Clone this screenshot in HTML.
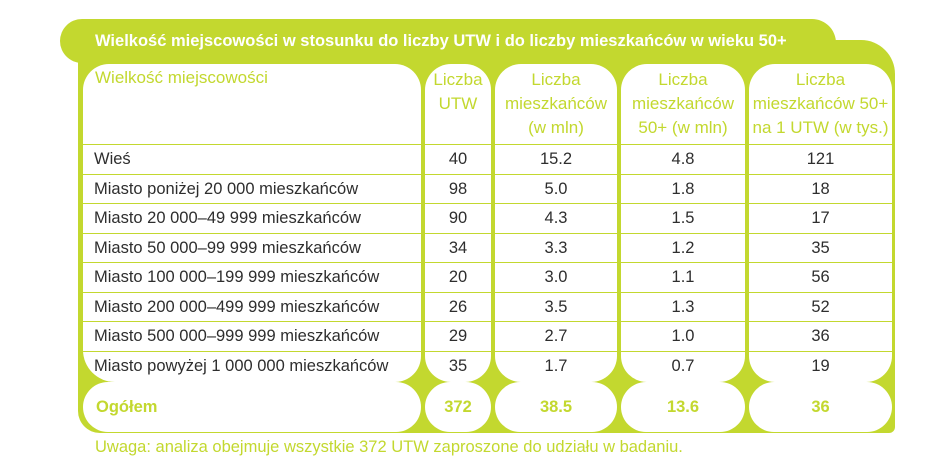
<!DOCTYPE html>
<html><head><meta charset="utf-8"><style>
body{margin:0;width:944px;height:468px;background:#fff;position:relative;overflow:hidden;font-family:"Liberation Sans",sans-serif}
.abs{position:absolute}
.g{background:#c3d82f}
.cell{position:absolute;background:#fff;border-radius:26px 26px 26px 26px;overflow:hidden}
.hd{color:#c3d82f;font-size:17px;line-height:24px;text-align:center;position:absolute;left:0;right:0;top:4px}
.row{position:absolute;left:0;right:0;height:29px;border-top:1.5px solid #c3d82f;font-size:16.5px;line-height:29px;color:#2e2e2e;text-align:center}
.tot{position:absolute;background:#fff;border-radius:26px;color:#c3d82f;font-weight:bold;font-size:16.5px;line-height:50px;text-align:center}
</style></head><body>
<div class="abs g" style="left:60px;top:19px;width:776px;height:44px;border-radius:22px 24px 0 22px"></div>
<div class="abs g" style="left:78px;top:40px;width:817px;height:393px;border-radius:0 34px 6px 22px"></div>
<div class="abs" style="left:95px;top:29px;color:#fff;font-weight:bold;font-size:16.5px;line-height:24px">Wielkość miejscowości w stosunku do liczby UTW i do liczby mieszkańców w wieku 50+</div>

<div id="cols"></div>

<div class="abs" style="left:95px;top:436px;color:#c3d82f;font-size:16.5px;line-height:22px">Uwaga: analiza obejmuje wszystkie 372 UTW zaproszone do udziału w badaniu.</div>

<script>
const categories=["Wieś","Miasto poniżej 20 000 mieszkańców","Miasto 20 000–49 999 mieszkańców","Miasto 50 000–99 999 mieszkańców","Miasto 100 000–199 999 mieszkańców","Miasto 200 000–499 999 mieszkańców","Miasto 500 000–999 999 mieszkańców","Miasto powyżej 1 000 000 mieszkańców"];
const utw=["40","98","90","34","20","26","29","35"];
const residents=["15.2","5.0","4.3","3.3","3.0","3.5","2.7","1.7"];
const residents50=["4.8","1.8","1.5","1.2","1.1","1.3","1.0","0.7"];
const perUtw=["121","18","17","35","56","52","36","19"];
const headers=["Wielkość miejscowości","Liczba<br>UTW","Liczba<br>mieszkańców<br>(w mln)","Liczba<br>mieszkańców<br>50+ (w mln)","Liczba<br>mieszkańców 50+<br>na 1 UTW (w tys.)"];
const totals=["Ogółem","372","38.5","13.6","36"];
const colL=[83,425,495,621,749], colR=[421,491,617,745,892];
const names=["town-size","utw-count","residents","residents-50plus","residents-per-utw"];
const cols=[categories,utw,residents,residents50,perUtw];
const top0=64, hdrH=80, rowH=29.5;
const root=document.getElementById('cols');
for(let c=0;c<5;c++){
  const w=colR[c]-colL[c];
  const cell=document.createElement('div');
  cell.className='cell';
  
  
  cell.style.left=colL[c]+'px';cell.style.top=top0+'px';cell.style.width=w+'px';
  cell.style.height=(hdrH+rowH*categories.length+2)+'px';
  cell.style.borderRadius=(c==0?'26px 26px 26px 32px':'26px');
  const h=document.createElement('div');
  h.className='hd';
  
  
  h.innerHTML=headers[c];
  if(c==0){h.style.textAlign='left';h.style.left='12px';h.style.top='2px';}
  cell.appendChild(h);
  cols[c].forEach((v,i)=>{
    const r=document.createElement('div');
    r.className='row';
    
    
    r.style.top=(hdrH+i*rowH)+'px';
    if(c==0){r.style.textAlign='left';r.style.paddingLeft='11px';}
    r.textContent=v;
    cell.appendChild(r);
  });
  root.appendChild(cell);
  const t=document.createElement('div');
  t.className='tot';
  
  
  t.style.left=colL[c]+'px';t.style.top='382px';t.style.width=w+'px';t.style.height='50px';
  if(c==0){t.style.textAlign='left';t.style.paddingLeft='13px';t.style.width=(w-13)+'px';}
  t.textContent=totals[c];
  root.appendChild(t);
}
</script>
</body></html>
